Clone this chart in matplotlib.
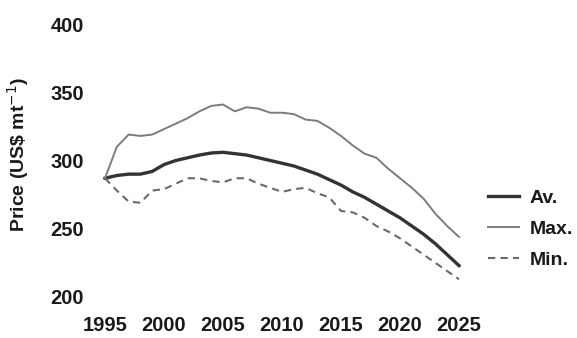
import matplotlib
matplotlib.use("Agg")
import matplotlib.pyplot as plt

years = list(range(1995, 2026))

price_max = [287, 310, 319, 318, 319, 323, 327, 331, 336, 340, 341, 336, 339, 338, 335,
             335, 334, 330, 329, 324, 318, 311, 305, 302, 294, 287, 280, 272, 261, 252, 244]
price_av = [287, 289, 290, 290, 292, 297, 300, 302, 304, 305.5, 306, 305, 304, 302, 300,
            298, 296, 293, 290, 286, 282, 277, 273, 268, 263, 258, 252, 246, 239, 231, 223]
price_min = [287, 278, 270, 269, 278, 279, 283, 287, 287, 285, 284, 287, 287, 283, 280,
             277, 279, 280, 276, 273, 263, 262, 258, 252, 248, 243, 237, 231, 225, 219, 213]

x_ticks = [1995, 2000, 2005, 2010, 2015, 2020, 2025]
y_ticks = [200, 250, 300, 350, 400]

plt.rcParams['font.family'] = ['Liberation Sans', 'DejaVu Sans']

fig = plt.figure(figsize=(5.77, 3.38), dpi=100)
ax = fig.add_axes([105 / 577, 41 / 338, 354 / 577, 273 / 338])

ax.plot(years, price_av, color='#333333', lw=2.4, label='Av.', clip_on=False)
ax.plot(years, price_max, color='#7c7c7c', lw=1.4, label='Max.', clip_on=False)
ax.plot(years, price_min, color='#6a6a6a', lw=1.5, ls=(0, (3.5, 2.5)), label='Min.', clip_on=False)

ax.set_xlim(1995, 2025)
ax.set_ylim(200, 400)
ax.set_xticks(x_ticks)
ax.set_yticks(y_ticks)
ax.tick_params(length=0, labelsize=14.5)
ax.tick_params(axis='x', pad=14)
ax.tick_params(axis='y', pad=15)
for lbl in ax.get_xticklabels() + ax.get_yticklabels():
    lbl.set_fontweight('bold')
    lbl.set_color('#1a1a1a')
for s in ax.spines.values():
    s.set_visible(False)

fig.text(18 / 577, 1 - 154 / 338, r'Price (US\$ mt$^{-1}$)', rotation=90,
         ha='center', va='center', fontsize=14, fontweight='bold', color='#1a1a1a')

leg = ax.legend(loc='center left', bbox_to_anchor=(470 / 577, 1 - 229 / 338),
                bbox_transform=fig.transFigure, frameon=False,
                prop={'weight': 'bold', 'size': 14}, handlelength=1.6,
                handletextpad=0.55, labelspacing=0.68)
for t in leg.get_texts():
    t.set_color('#1a1a1a')

fig.savefig('out.png', dpi=100)
